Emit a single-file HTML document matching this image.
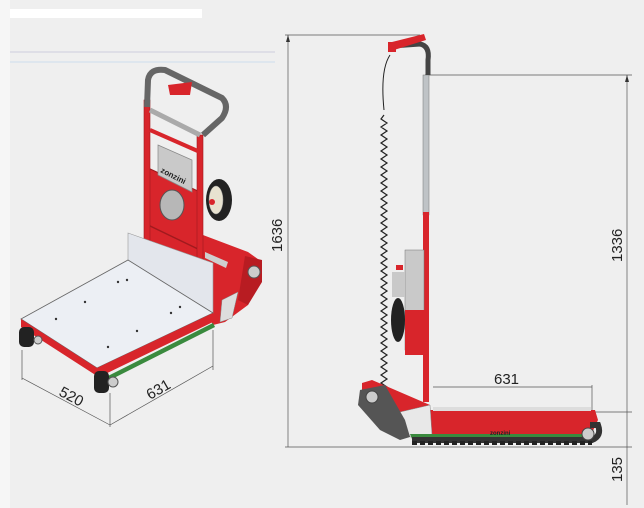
<!DOCTYPE html>
<html><head><meta charset="utf-8"><style>
html,body{margin:0;padding:0;background:#efefef;}
svg{display:block;}
text{font-family:"Liberation Sans",sans-serif;fill:#222;}
</style></head><body>
<svg width="644" height="508" viewBox="0 0 644 508" xmlns="http://www.w3.org/2000/svg">
<rect width="644" height="508" fill="#efefef"/>
<rect x="0" y="9" width="202" height="9" fill="#fff"/>
<rect x="0" y="0" width="10" height="508" fill="#f6f6f6"/>
<line x1="10" y1="52" x2="275" y2="52" stroke="#ccd" stroke-width="1"/>
<line x1="10" y1="62" x2="275" y2="62" stroke="#cde" stroke-width="1"/>

<!-- LEFT ISO DRAWING -->
<!-- red base arm -->
<polygon points="195,232 248,252 262,262 248,305 225,322 213,325 200,300 180,270" fill="#d8252b"/>
<polygon points="245,256 262,260 262,282 248,305 238,300" fill="#b81c22"/>
<polygon points="205,252 228,262 226,268 205,258" fill="#cfcfcf"/>
<circle cx="254" cy="272" r="6" fill="#ccc" stroke="#555"/>
<polygon points="222,300 238,292 232,318 220,322" fill="#ddd" stroke="#888" stroke-width="0.5"/>
<!-- frame -->
<polygon points="148,168 200,192 200,272 148,246" fill="#d8252b" stroke="#a01a1e" stroke-width="1"/>
<polygon points="158,145 192,160 192,192 158,175" fill="#c9c9c9" stroke="#888" stroke-width="0.7"/>
<ellipse cx="172" cy="205" rx="12" ry="15" fill="#b7b7b7" stroke="#555"/>
<line x1="148" y1="225" x2="200" y2="250" stroke="#a01a1e" stroke-width="1.5"/>
<rect x="144" y="100" width="6" height="150" fill="#d8252b" stroke="#a01a1e" stroke-width="0.6"/>
<rect x="197" y="135" width="6" height="140" fill="#d8252b" stroke="#a01a1e" stroke-width="0.6"/>
<polyline points="150,110 200,135" stroke="#aaa" stroke-width="5" fill="none"/>
<polyline points="150,130 200,152" stroke="#d8252b" stroke-width="4" fill="none"/>
<text x="160" y="172" font-size="8" transform="rotate(27 160 172)" font-weight="bold" fill="#eee">zonzini</text>
<ellipse cx="219" cy="200" rx="13" ry="21" fill="#222"/>
<ellipse cx="216" cy="200" rx="7" ry="14" fill="#e8e2d0" stroke="#999" stroke-width="0.5"/>
<circle cx="212" cy="202" r="3" fill="#d8252b"/>
<path d="M147,107 L148,80 Q150,68 165,70 L222,98 Q230,106 222,118 L203,135" stroke="#666" stroke-width="6" fill="none" stroke-linejoin="round"/>
<polygon points="168,85 192,82 190,95 170,95" fill="#d8252b"/>
<!-- back plate -->
<polygon points="128,233 213,263 213,313 128,262" fill="#e3e6ec" stroke="#999" stroke-width="0.6"/>
<!-- platform -->
<polygon points="21,319 128,260 213,313 97,368" fill="#eceff4" stroke="#666" stroke-width="0.8"/>
<polygon points="21,319 97,368 97,376 21,327" fill="#d8252b"/>
<polygon points="97,368 213,313 213,322 97,378" fill="#d8252b"/>
<polygon points="100,380 213,323 215,327 102,384" fill="#3a8a3e"/>
<!-- rollers -->
<rect x="19" y="327" width="15" height="20" rx="5" fill="#222"/>
<rect x="94" y="371" width="15" height="22" rx="5" fill="#222"/>
<circle cx="113" cy="382" r="5" fill="#ccc" stroke="#555"/>
<circle cx="38" cy="340" r="4" fill="#ccc" stroke="#555"/>
<g fill="#333"><circle cx="118" cy="282" r="1.2"/><circle cx="127" cy="280" r="1.2"/><circle cx="85" cy="302" r="1.2"/><circle cx="56" cy="319" r="1.2"/><circle cx="171" cy="313" r="1.2"/><circle cx="180" cy="307" r="1.2"/><circle cx="137" cy="331" r="1.2"/><circle cx="108" cy="347" r="1.2"/></g>
<!-- dims left -->
<g stroke="#555" stroke-width="0.7" fill="none">
<line x1="22" y1="350" x2="22" y2="380"/>
<line x1="110" y1="393" x2="110" y2="427"/>
<line x1="213" y1="330" x2="213" y2="370"/>
<line x1="22" y1="378" x2="110" y2="425"/>
<line x1="110" y1="425" x2="213" y2="366"/>
</g>
<text x="58" y="395" font-size="15" transform="rotate(28 58 395)">520</text>
<text x="150" y="400" font-size="15" transform="rotate(-30 150 400)">631</text>

<!-- RIGHT SIDE DRAWING dims -->
<g stroke="#555" stroke-width="0.7" fill="none">
<line x1="285" y1="35" x2="420" y2="35"/>
<line x1="288" y1="35" x2="288" y2="447"/>
<line x1="425" y1="75" x2="632" y2="75"/>
<line x1="627" y1="75" x2="627" y2="505"/>
<line x1="590" y1="412" x2="632" y2="412"/>
<line x1="285" y1="447" x2="632" y2="447"/>
<line x1="433" y1="387" x2="592" y2="387"/>
<line x1="592" y1="385" x2="592" y2="412"/>
</g>
<polygon points="288,35 286,42 290,42" fill="#333"/>
<polygon points="627,75 625,82 629,82" fill="#333"/>
<text x="282" y="252" font-size="15" transform="rotate(-90 282 252)">1636</text>
<text x="622" y="262" font-size="15" transform="rotate(-90 622 262)">1336</text>
<text x="622" y="482" font-size="15" transform="rotate(-90 622 482)">135</text>
<text x="494" y="384" font-size="15">631</text>

<!-- right machine -->
<rect x="423" y="75" width="6" height="140" fill="#bfc3c6" stroke="#777" stroke-width="0.5"/>
<rect x="423" y="212" width="6" height="190" fill="#d8252b"/>
<path d="M392,46 L420,44 Q430,46 428,60 L428,75" stroke="#444" stroke-width="5" fill="none"/>
<polygon points="392,42 424,34 426,40 394,50" fill="#d8252b"/>
<rect x="388" y="42" width="8" height="10" fill="#d8252b"/>
<path d="M390,55 Q380,70 384,110" stroke="#222" stroke-width="1" fill="none"/>
<path d="M384,115 l-3,4 l6,4 l-6,4 l6,4 l-6,4 l6,4 l-6,4 l6,4 l-6,4 l6,4 l-6,4 l6,4 l-6,4 l6,4 l-6,4 l6,4 l-6,4 l6,4 l-6,4 l6,4 l-6,4 l6,4 l-6,4 l6,4 l-6,4 l6,4 l-6,4 l6,4 l-6,4 l6,4 l-6,4 l6,4 l-6,4 l6,4 l-6,4 l6,4 l-6,4 l6,4 l-6,4 l6,4 l-6,4 l6,4 l-6,4 l6,4 l-6,4 l6,4 l-6,4 l6,4 l-6,4 l6,4 l-6,4 l6,4 l-6,4 l6,4 l-6,4 l6,4 l-6,4 l6,4 l-6,4 l6,4 l-6,4 l6,4 l-6,4 l6,4 l-6,4 l6,4 l-6,4 l6,4 l-6,4 l6,4 l-6,4" stroke="#222" stroke-width="1.2" fill="none"/>
<rect x="405" y="250" width="19" height="100" fill="#c9c9c9" stroke="#777" stroke-width="0.5"/>
<rect x="392" y="272" width="13" height="25" fill="#c9c9c9"/>
<rect x="396" y="265" width="7" height="5" fill="#d8252b"/>
<rect x="405" y="310" width="20" height="45" fill="#d8252b"/>
<ellipse cx="398" cy="320" rx="7" ry="22" fill="#222"/>
<!-- base -->
<polygon points="362,383 372,380 430,405 430,410 595,410 598,420 590,437 410,437 390,425 362,395" fill="#d8252b"/>
<polygon points="400,412 430,405 432,435 410,437" fill="#e8e8e8" stroke="#888" stroke-width="0.5"/>
<polygon points="360,390 385,385 405,420 410,437 400,440 380,430 358,405" fill="#555"/>
<circle cx="372" cy="397" r="6" fill="#ccc" stroke="#444"/>
<rect x="433" y="407" width="158" height="4" fill="#ddd"/>
<polygon points="410,434 590,434 590,439 412,439" fill="#3a8a3e"/>
<path d="M412,440 L592,440 Q602,436 598,425 L590,425" stroke="#333" stroke-width="6" fill="none"/>
<path d="M412,443 h180" stroke="#222" stroke-width="4" stroke-dasharray="5,3" fill="none"/>
<circle cx="588" cy="434" r="6" fill="#ccc" stroke="#444"/>
<text x="490" y="435" font-size="6" font-weight="bold" fill="#eee">zonzini</text>
</svg>
</body></html>
